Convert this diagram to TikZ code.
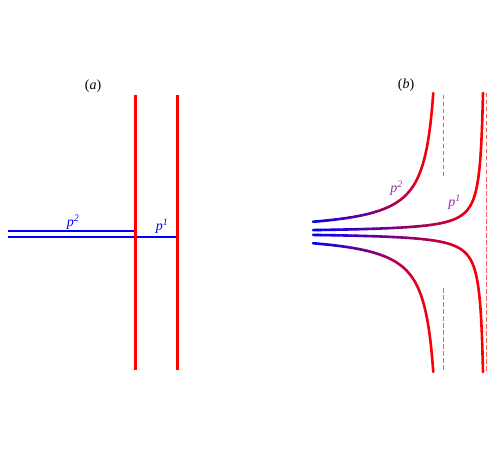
\documentclass[tikz,border=0pt]{standalone}
\usepackage{fontspec}
\setmainfont{Liberation Serif}
\begin{document}
\begin{tikzpicture}[x=1pt,y=-1pt,
  redline/.style={draw={rgb,255:red,255;green,0;blue,0}, line width=2.6pt},
  blueline/.style={draw={rgb,255:red,0;green,0;blue,255}, line width=2.3pt},
  curve/.style={line width=2.6pt, line cap=round},
  asym/.style={draw={rgb,255:red,255;green,90;blue,90}, line width=1.2pt, dash pattern=on 4.5pt off 2.5pt},
  lbl/.style={font=\fontsize{14}{16}\selectfont, inner sep=0pt},
  blbl/.style={lbl, text={rgb,255:red,0;green,0;blue,255}},
  plbl/.style={lbl, text={rgb,255:red,150;green,40;blue,170}}]
\useasboundingbox (0,0) rectangle (500,449);
% ---- panel (a)
\node[lbl] (la) at (93,86) {(\textit{a})};
\coordinate (r1t) at (135.3,95);  \coordinate (r1b) at (135.3,370);
\coordinate (r2t) at (177.3,95);  \coordinate (r2b) at (177.3,370);
\coordinate (b2l) at (8.3,230.7); \coordinate (b2r) at (136.5,230.7);
\coordinate (b1l) at (8.3,236.7); \coordinate (b1r) at (177.3,236.7);
\draw[blueline] (b2l) -- (b2r);
\draw[blueline] (b1l) -- (b1r);
\draw[redline] (r1t) -- (r1b);
\draw[redline] (r2t) -- (r2b);
\node[blbl] (pa2) at (73,222) {\textit{p}\textsuperscript{\textit{2}}};
\node[blbl] (pa1) at (162,226) {\textit{p}\textsuperscript{\textit{1}}};
% ---- panel (b)
\node[lbl] (lb) at (406,85) {(\textit{b})};
\coordinate (d1t) at (443.3,95);  \coordinate (d1m) at (443.3,179);
\coordinate (d1n) at (443.3,288); \coordinate (d1b) at (443.3,372);
\coordinate (d2t) at (486.7,93);  \coordinate (d2b) at (486.7,372);
\draw[asym] (d1t) -- (d1m);
\draw[asym] (d1n) -- (d1b);
\draw[asym] (d2t) -- (d2b);
\def\N{40}
\foreach \i in {0,...,39} {
  \pgfmathsetmacro\xa{313+(433.26-313)*\i/\N}
  \pgfmathsetmacro\xb{313+(433.26-313)*(\i+1)/\N}
  \pgfmathsetmacro\ya{313+(482.99-313)*\i/\N}
  \pgfmathsetmacro\yb{313+(482.99-313)*(\i+1)/\N}
  \pgfmathsetmacro\t{100*(\i+0.5)/\N}
  \draw[curve, red!\t!blue] plot[domain=\xa:\xb, samples=8] (\x,{232.5-1400/(443.3-\x)});
  \draw[curve, red!\t!blue] plot[domain=\xa:\xb, samples=8] (\x,{232.5+1400/(443.3-\x)});
  \draw[curve, red!\t!blue] plot[domain=\ya:\yb, samples=8] (\x,{232.5-420/(486-\x)});
  \draw[curve, red!\t!blue] plot[domain=\ya:\yb, samples=8] (\x,{232.5+420/(486-\x)});
}
\node[plbl] (pb2) at (396.5,188) {\textit{p}\textsuperscript{\textit{2}}};
\node[plbl] (pb1) at (454.5,202.5) {\textit{p}\textsuperscript{\textit{1}}};
\end{tikzpicture}
\end{document}
